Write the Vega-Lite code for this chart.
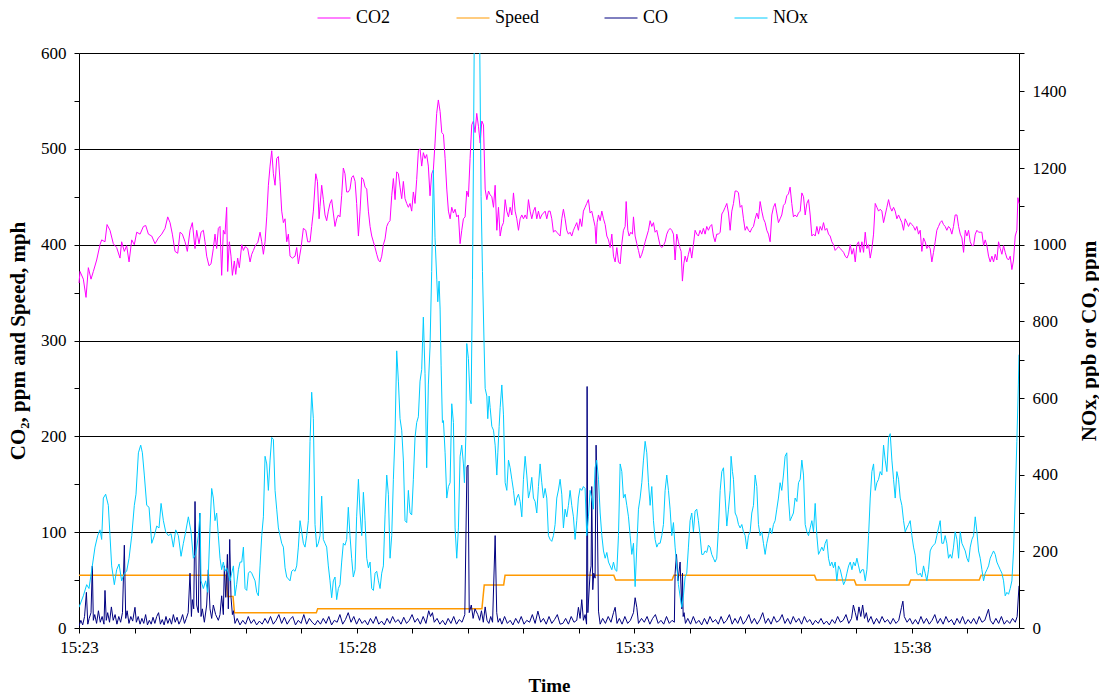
{
  "$schema": "https://vega.github.io/schema/vega-lite/v6.json",
  "width": 940,
  "height": 575,
  "autosize": {"type": "none"},
  "padding": {"left": 79, "top": 53, "right": 80, "bottom": 70},
  "background": "#ffffff",
  "config": {
    "font": "Liberation Serif, Times New Roman, serif",
    "view": {"stroke": null},
    "text": {"font": "Liberation Serif, Times New Roman, serif"},
    "axis": {
      "labelFont": "Liberation Serif, Times New Roman, serif",
      "titleFont": "Liberation Serif, Times New Roman, serif",
      "labelFontSize": 17,
      "labelColor": "#000000",
      "titleColor": "#000000",
      "titleFontWeight": "bold",
      "domainColor": "#000000",
      "tickColor": "#000000",
      "domainWidth": 1,
      "tickWidth": 1,
      "tickSize": 5,
      "labelOverlap": false,
      "labelFlush": false
    },
    "legend": {
      "orient": "none",
      "legendX": 238,
      "legendY": -52,
      "direction": "horizontal",
      "symbolType": "stroke",
      "symbolSize": 1089,
      "symbolStrokeWidth": 1,
      "labelFont": "Liberation Serif, Times New Roman, serif",
      "labelFontSize": 18,
      "labelColor": "#000000",
      "labelOffset": 5,
      "columnPadding": 63
    }
  },
  "datasets": {
    "co2": [
      {"t":0,"v":360},{"t":1.1,"v":372},{"t":4.7,"v":364},{"t":7.6,"v":345},{"t":10.1,"v":376},{"t":13,"v":364},{"t":15.5,"v":372},{"t":19.1,"v":384},{"t":22.7,"v":400},{"t":24.5,"v":405},{"t":28.1,"v":403},{"t":30.3,"v":421},{"t":33.5,"v":415},{"t":37.1,"v":401},{"t":40.7,"v":397},{"t":44.3,"v":386},{"t":46.1,"v":403},{"t":49,"v":393},{"t":51.5,"v":399},{"t":54.1,"v":382},{"t":57,"v":405},{"t":59.8,"v":400},{"t":62.4,"v":413},{"t":66,"v":411},{"t":69.6,"v":419},{"t":72.1,"v":420},{"t":75,"v":411},{"t":78.6,"v":409},{"t":82.2,"v":401},{"t":85.8,"v":407},{"t":89.4,"v":411},{"t":93,"v":417},{"t":95.9,"v":429},{"t":98.4,"v":423},{"t":100.9,"v":411},{"t":103.8,"v":393},{"t":106.7,"v":391},{"t":109.2,"v":413},{"t":111.7,"v":411},{"t":114.6,"v":403},{"t":117.1,"v":393},{"t":120,"v":415},{"t":122.5,"v":423},{"t":125.4,"v":396},{"t":127.2,"v":415},{"t":129.7,"v":401},{"t":131.9,"v":413},{"t":134.4,"v":415},{"t":136.2,"v":403},{"t":138,"v":388},{"t":140.5,"v":378},{"t":142.7,"v":380},{"t":145.2,"v":396},{"t":147,"v":411},{"t":148.8,"v":396},{"t":150.6,"v":417},{"t":152.4,"v":419},{"t":154.2,"v":368},{"t":156,"v":415},{"t":157.8,"v":411},{"t":159.6,"v":439},{"t":160.7,"v":372},{"t":162.5,"v":403},{"t":164.3,"v":388},{"t":165.8,"v":368},{"t":167.9,"v":383},{"t":169.4,"v":369},{"t":171.5,"v":386},{"t":173.3,"v":376},{"t":175.9,"v":400},{"t":177.7,"v":394},{"t":179.5,"v":398},{"t":182.3,"v":396},{"t":184.9,"v":382},{"t":186.7,"v":390},{"t":188.5,"v":394},{"t":191,"v":400},{"t":193.2,"v":402},{"t":195.7,"v":413},{"t":197.5,"v":403},{"t":199.3,"v":390},{"t":201.1,"v":403},{"t":202.9,"v":429},{"t":204.7,"v":462},{"t":206.5,"v":482},{"t":208.3,"v":498},{"t":210.1,"v":474},{"t":211.9,"v":462},{"t":213.7,"v":490},{"t":215.5,"v":492},{"t":217.3,"v":466},{"t":219.1,"v":435},{"t":220.9,"v":423},{"t":222.7,"v":427},{"t":224.5,"v":403},{"t":226.3,"v":411},{"t":228.1,"v":388},{"t":230.6,"v":386},{"t":233.5,"v":388},{"t":235.3,"v":397},{"t":237.1,"v":380},{"t":240,"v":397},{"t":242.5,"v":417},{"t":245.1,"v":415},{"t":247.2,"v":403},{"t":249.7,"v":403},{"t":251.5,"v":419},{"t":253.3,"v":435},{"t":255.9,"v":474},{"t":257.7,"v":466},{"t":259.5,"v":427},{"t":260.5,"v":440},{"t":262.3,"v":462},{"t":264.1,"v":447},{"t":265.9,"v":431},{"t":267.7,"v":425},{"t":269.5,"v":435},{"t":271.3,"v":443},{"t":273.1,"v":447},{"t":274.9,"v":433},{"t":276.7,"v":419},{"t":278.5,"v":427},{"t":280.3,"v":431},{"t":282.1,"v":429},{"t":283.9,"v":451},{"t":285.7,"v":480},{"t":287.5,"v":474},{"t":289.3,"v":455},{"t":291.1,"v":455},{"t":292.9,"v":458},{"t":294.7,"v":470},{"t":296.5,"v":472},{"t":298.4,"v":466},{"t":300.1,"v":443},{"t":302,"v":409},{"t":303.8,"v":435},{"t":305.6,"v":470},{"t":307.4,"v":468},{"t":309.2,"v":460},{"t":311,"v":458},{"t":312.8,"v":435},{"t":314.6,"v":419},{"t":316.4,"v":409},{"t":318.2,"v":403},{"t":320,"v":397},{"t":321.8,"v":390},{"t":323.6,"v":384},{"t":325.4,"v":382},{"t":327.2,"v":388},{"t":329,"v":400},{"t":330.8,"v":406},{"t":332.6,"v":419},{"t":334.4,"v":423},{"t":336.2,"v":425},{"t":338,"v":451},{"t":339.8,"v":469},{"t":341.6,"v":447},{"t":343.4,"v":476},{"t":345.2,"v":474},{"t":347,"v":460},{"t":348.8,"v":448},{"t":350.6,"v":466},{"t":352.4,"v":448},{"t":354.2,"v":443},{"t":356,"v":439},{"t":357.8,"v":443},{"t":359.6,"v":435},{"t":361.4,"v":455},{"t":363.2,"v":443},{"t":365,"v":468},{"t":366.8,"v":498},{"t":368.6,"v":500},{"t":370.4,"v":482},{"t":372.2,"v":496},{"t":374,"v":490},{"t":375.8,"v":494},{"t":377.6,"v":482},{"t":379.4,"v":451},{"t":381.2,"v":474},{"t":383,"v":478},{"t":384.8,"v":506},{"t":386.6,"v":537},{"t":388.4,"v":551},{"t":390.3,"v":539},{"t":392.1,"v":517},{"t":393.9,"v":515},{"t":395.7,"v":490},{"t":397.5,"v":458},{"t":399.3,"v":435},{"t":401.1,"v":427},{"t":402.9,"v":439},{"t":404.7,"v":433},{"t":406.5,"v":437},{"t":408.3,"v":429},{"t":410.1,"v":431},{"t":411.9,"v":401},{"t":413.7,"v":415},{"t":415.5,"v":427},{"t":417.3,"v":429},{"t":419.1,"v":456},{"t":420.9,"v":450},{"t":422.7,"v":490},{"t":424.5,"v":525},{"t":426.3,"v":529},{"t":428.1,"v":517},{"t":429.9,"v":537},{"t":431.8,"v":523},{"t":433.6,"v":506},{"t":435.4,"v":529},{"t":437.2,"v":525},{"t":439,"v":458},{"t":440.8,"v":447},{"t":442.6,"v":456},{"t":444.4,"v":452},{"t":446.2,"v":450},{"t":448,"v":439},{"t":449.8,"v":462},{"t":451.6,"v":415},{"t":453.4,"v":439},{"t":455.2,"v":409},{"t":457,"v":419},{"t":458.8,"v":423},{"t":460.6,"v":447},{"t":462.4,"v":435},{"t":464.2,"v":429},{"t":466,"v":439},{"t":467.8,"v":431},{"t":469.6,"v":454},{"t":471.4,"v":435},{"t":473.2,"v":427},{"t":475,"v":415},{"t":476.8,"v":427},{"t":478.6,"v":431},{"t":480.4,"v":427},{"t":482.2,"v":431},{"t":484,"v":427},{"t":485.8,"v":447},{"t":487.6,"v":435},{"t":489.4,"v":427},{"t":491.2,"v":435},{"t":493,"v":439},{"t":494.8,"v":427},{"t":496.6,"v":435},{"t":498.4,"v":427},{"t":500.2,"v":431},{"t":502,"v":433},{"t":503.8,"v":435},{"t":505.6,"v":427},{"t":507.4,"v":435},{"t":509.2,"v":435},{"t":511,"v":427},{"t":512.8,"v":413},{"t":514.6,"v":415},{"t":516.4,"v":413},{"t":518.2,"v":411},{"t":520,"v":409},{"t":521.8,"v":427},{"t":523.6,"v":437},{"t":525.4,"v":427},{"t":527.2,"v":415},{"t":529,"v":411},{"t":530.8,"v":413},{"t":532.6,"v":409},{"t":534.4,"v":415},{"t":536.2,"v":419},{"t":538,"v":423},{"t":539.8,"v":415},{"t":541.6,"v":427},{"t":543.4,"v":419},{"t":545.2,"v":435},{"t":547,"v":439},{"t":548.8,"v":443},{"t":550.6,"v":447},{"t":552.4,"v":433},{"t":554.2,"v":435},{"t":556,"v":427},{"t":557.8,"v":419},{"t":558.9,"v":401},{"t":560,"v":423},{"t":561.5,"v":431},{"t":563.3,"v":425},{"t":565.1,"v":435},{"t":566.9,"v":427},{"t":568.7,"v":421},{"t":570.5,"v":409},{"t":572.3,"v":405},{"t":574.1,"v":397},{"t":575.9,"v":411},{"t":577.7,"v":388},{"t":579.5,"v":382},{"t":581.3,"v":397},{"t":583.1,"v":382},{"t":584.9,"v":380},{"t":586.7,"v":401},{"t":588.5,"v":415},{"t":590.3,"v":419},{"t":591.4,"v":445},{"t":593.2,"v":415},{"t":594.6,"v":409},{"t":596.4,"v":413},{"t":598.2,"v":411},{"t":599.3,"v":429},{"t":601.1,"v":409},{"t":602.9,"v":401},{"t":604.7,"v":394},{"t":606.5,"v":386},{"t":608.3,"v":390},{"t":610.1,"v":396},{"t":611.9,"v":403},{"t":613.7,"v":409},{"t":615.5,"v":415},{"t":617.3,"v":425},{"t":619.1,"v":419},{"t":620.9,"v":423},{"t":622.7,"v":413},{"t":624.5,"v":415},{"t":626.3,"v":407},{"t":628.1,"v":399},{"t":629.9,"v":397},{"t":631.7,"v":399},{"t":633.5,"v":403},{"t":635.3,"v":411},{"t":637.1,"v":415},{"t":638.9,"v":417},{"t":640.7,"v":415},{"t":642.5,"v":411},{"t":644.3,"v":384},{"t":646.1,"v":411},{"t":647.9,"v":403},{"t":649.7,"v":396},{"t":650.8,"v":393},{"t":652.2,"v":362},{"t":653.7,"v":380},{"t":655.1,"v":388},{"t":656.9,"v":382},{"t":658.7,"v":390},{"t":660.5,"v":397},{"t":662.3,"v":386},{"t":664.1,"v":400},{"t":665.9,"v":415},{"t":667.7,"v":411},{"t":669.5,"v":409},{"t":671.3,"v":415},{"t":673.1,"v":411},{"t":674.9,"v":417},{"t":676.7,"v":411},{"t":678.5,"v":419},{"t":680.3,"v":415},{"t":682.1,"v":419},{"t":683.9,"v":421},{"t":685.7,"v":409},{"t":687.5,"v":403},{"t":689.3,"v":411},{"t":691.2,"v":411},{"t":693,"v":413},{"t":694.8,"v":432},{"t":696.6,"v":435},{"t":698.4,"v":439},{"t":700.2,"v":443},{"t":702,"v":433},{"t":703.8,"v":415},{"t":705.6,"v":435},{"t":707.4,"v":443},{"t":709.2,"v":456},{"t":711,"v":456},{"t":712.8,"v":454},{"t":714.6,"v":439},{"t":716.4,"v":441},{"t":718.2,"v":427},{"t":720,"v":415},{"t":721.8,"v":419},{"t":723.6,"v":415},{"t":725.4,"v":413},{"t":727.2,"v":417},{"t":729,"v":419},{"t":730.8,"v":427},{"t":732.6,"v":433},{"t":734.4,"v":427},{"t":736.2,"v":445},{"t":738,"v":435},{"t":739.8,"v":427},{"t":741.6,"v":423},{"t":743.4,"v":415},{"t":745.2,"v":411},{"t":747,"v":403},{"t":748.8,"v":431},{"t":750.6,"v":439},{"t":752.4,"v":443},{"t":754.2,"v":433},{"t":756,"v":423},{"t":757.8,"v":427},{"t":759.6,"v":431},{"t":761.4,"v":441},{"t":763.2,"v":443},{"t":765,"v":451},{"t":766.8,"v":453},{"t":768.6,"v":460},{"t":770.4,"v":443},{"t":772.2,"v":429},{"t":774,"v":431},{"t":775.8,"v":429},{"t":777.6,"v":433},{"t":779.5,"v":435},{"t":781.3,"v":454},{"t":783.1,"v":450},{"t":784.9,"v":431},{"t":786.7,"v":443},{"t":788.5,"v":447},{"t":790.3,"v":431},{"t":792.1,"v":409},{"t":793.9,"v":411},{"t":795.7,"v":409},{"t":797.5,"v":419},{"t":799.3,"v":411},{"t":801.1,"v":419},{"t":802.9,"v":415},{"t":804.7,"v":423},{"t":806.5,"v":415},{"t":808.3,"v":417},{"t":810.1,"v":411},{"t":811.9,"v":409},{"t":813.7,"v":403},{"t":815.5,"v":400},{"t":817.3,"v":394},{"t":819.1,"v":396},{"t":820.9,"v":398},{"t":822.8,"v":396},{"t":824.6,"v":394},{"t":826.4,"v":392},{"t":828.2,"v":388},{"t":830,"v":386},{"t":831.8,"v":390},{"t":833.6,"v":400},{"t":835.4,"v":390},{"t":837.2,"v":396},{"t":839,"v":382},{"t":840.8,"v":400},{"t":842.6,"v":403},{"t":844.4,"v":392},{"t":846.2,"v":403},{"t":848,"v":392},{"t":849.8,"v":413},{"t":851.6,"v":396},{"t":853.4,"v":400},{"t":855.2,"v":386},{"t":857,"v":396},{"t":858.8,"v":411},{"t":860.6,"v":443},{"t":862.4,"v":439},{"t":864.2,"v":435},{"t":866,"v":437},{"t":867.8,"v":435},{"t":869.6,"v":423},{"t":871.4,"v":431},{"t":873.2,"v":439},{"t":875,"v":447},{"t":876.8,"v":439},{"t":878.6,"v":435},{"t":880.4,"v":439},{"t":882.2,"v":435},{"t":884,"v":427},{"t":885.8,"v":431},{"t":887.6,"v":427},{"t":889.4,"v":423},{"t":891.2,"v":415},{"t":893,"v":427},{"t":894.8,"v":423},{"t":896.6,"v":419},{"t":898.4,"v":423},{"t":900.2,"v":421},{"t":902,"v":419},{"t":903.8,"v":415},{"t":905.6,"v":419},{"t":907.4,"v":411},{"t":909.2,"v":415},{"t":911,"v":393},{"t":912.8,"v":407},{"t":914.6,"v":403},{"t":916.4,"v":396},{"t":918.2,"v":399},{"t":920,"v":396},{"t":921.8,"v":382},{"t":923.6,"v":392},{"t":925.4,"v":403},{"t":927.2,"v":415},{"t":929,"v":419},{"t":930.8,"v":423},{"t":932.6,"v":425},{"t":934.4,"v":421},{"t":936.2,"v":419},{"t":938,"v":415},{"t":939.8,"v":419},{"t":941.6,"v":417},{"t":943.4,"v":411},{"t":945.2,"v":419},{"t":947,"v":431},{"t":948.9,"v":431},{"t":950.7,"v":419},{"t":952.5,"v":411},{"t":954.3,"v":407},{"t":956.1,"v":392},{"t":957.9,"v":415},{"t":959.7,"v":409},{"t":961.5,"v":415},{"t":963.3,"v":403},{"t":965.1,"v":399},{"t":966.9,"v":399},{"t":968.7,"v":411},{"t":970.5,"v":415},{"t":972.3,"v":413},{"t":974.1,"v":413},{"t":975.9,"v":413},{"t":977.7,"v":399},{"t":979.5,"v":405},{"t":981.3,"v":399},{"t":983.1,"v":388},{"t":984.9,"v":382},{"t":986.7,"v":388},{"t":988.5,"v":382},{"t":990.3,"v":390},{"t":992.1,"v":384},{"t":993.9,"v":403},{"t":995.7,"v":396},{"t":997.5,"v":390},{"t":999.3,"v":399},{"t":1001.1,"v":392},{"t":1002.9,"v":386},{"t":1004.7,"v":384},{"t":1006.5,"v":388},{"t":1008.3,"v":374},{"t":1010.1,"v":384},{"t":1011.9,"v":409},{"t":1013.7,"v":415},{"t":1014.8,"v":449},{"t":1016,"v":443}
    ],
    "speed": [
      {"t":0,"v":55},{"t":159,"v":55},{"t":160.5,"v":33},{"t":166.5,"v":33},{"t":168,"v":16},{"t":256.5,"v":16},{"t":258,"v":20},{"t":435.5,"v":20},{"t":438,"v":45},{"t":459,"v":45},{"t":460.5,"v":55},{"t":578,"v":55},{"t":580,"v":50},{"t":641,"v":50},{"t":643,"v":55},{"t":795,"v":55},{"t":797,"v":50},{"t":838,"v":50},{"t":840,"v":45},{"t":897,"v":45},{"t":899,"v":50},{"t":973,"v":50},{"t":975,"v":55},{"t":1016,"v":55}
    ],
    "co": [
      {"t":0,"v":5},{"t":2,"v":20},{"t":4,"v":8},{"t":6,"v":30},{"t":8,"v":93},{"t":9.5,"v":10},{"t":11,"v":25},{"t":13,"v":40},{"t":14.4,"v":162},{"t":15.5,"v":20},{"t":17,"v":35},{"t":19,"v":12},{"t":21,"v":45},{"t":23,"v":15},{"t":25,"v":30},{"t":27,"v":10},{"t":28.1,"v":98},{"t":29.5,"v":20},{"t":31,"v":40},{"t":33,"v":15},{"t":35,"v":55},{"t":37,"v":20},{"t":39,"v":35},{"t":41,"v":10},{"t":43,"v":30},{"t":45,"v":15},{"t":47,"v":40},{"t":49,"v":216},{"t":50.5,"v":25},{"t":52,"v":45},{"t":54,"v":12},{"t":56,"v":30},{"t":58,"v":18},{"t":60.5,"v":54},{"t":62,"v":15},{"t":64,"v":30},{"t":66,"v":10},{"t":68,"v":25},{"t":70,"v":12},{"t":72,"v":35},{"t":74,"v":8},{"t":76,"v":20},{"t":78,"v":10},{"t":80,"v":28},{"t":82,"v":12},{"t":84,"v":30},{"t":86,"v":40},{"t":88,"v":10},{"t":90,"v":22},{"t":92,"v":8},{"t":94,"v":30},{"t":96,"v":12},{"t":98,"v":25},{"t":100,"v":10},{"t":102,"v":35},{"t":104,"v":15},{"t":106,"v":28},{"t":108,"v":10},{"t":110,"v":20},{"t":112,"v":35},{"t":114,"v":12},{"t":116,"v":25},{"t":118,"v":40},{"t":120,"v":143},{"t":121.5,"v":30},{"t":122.5,"v":74},{"t":124,"v":50},{"t":125.4,"v":330},{"t":127.2,"v":60},{"t":129,"v":40},{"t":130.4,"v":300},{"t":131.9,"v":30},{"t":133.3,"v":50},{"t":135.5,"v":15},{"t":138,"v":60},{"t":139.8,"v":152},{"t":141.6,"v":50},{"t":143.4,"v":25},{"t":145.2,"v":60},{"t":147.7,"v":35},{"t":150.6,"v":20},{"t":152.4,"v":35},{"t":154.2,"v":84},{"t":156,"v":35},{"t":157.1,"v":162},{"t":158.6,"v":80},{"t":160.4,"v":192},{"t":161.4,"v":50},{"t":162.9,"v":231},{"t":164.3,"v":80},{"t":165.8,"v":35},{"t":166.9,"v":45},{"t":168.6,"v":12},{"t":171,"v":25},{"t":174,"v":8},{"t":177,"v":20},{"t":180,"v":10},{"t":183,"v":30},{"t":186,"v":12},{"t":189,"v":22},{"t":192,"v":8},{"t":195,"v":18},{"t":198,"v":10},{"t":201,"v":25},{"t":204,"v":12},{"t":207,"v":30},{"t":210,"v":10},{"t":213,"v":20},{"t":216,"v":35},{"t":219,"v":12},{"t":222,"v":28},{"t":225,"v":10},{"t":228,"v":22},{"t":231,"v":30},{"t":234,"v":8},{"t":237,"v":20},{"t":240,"v":12},{"t":243,"v":35},{"t":246,"v":10},{"t":249,"v":25},{"t":252,"v":15},{"t":255,"v":8},{"t":258,"v":20},{"t":261,"v":10},{"t":264,"v":25},{"t":267,"v":12},{"t":270,"v":30},{"t":273,"v":8},{"t":276,"v":20},{"t":279,"v":15},{"t":282,"v":35},{"t":285,"v":10},{"t":288,"v":22},{"t":291,"v":40},{"t":294,"v":15},{"t":297,"v":30},{"t":300,"v":10},{"t":303,"v":25},{"t":306,"v":12},{"t":309,"v":20},{"t":312,"v":8},{"t":315,"v":25},{"t":318,"v":12},{"t":321,"v":30},{"t":324,"v":10},{"t":327,"v":18},{"t":330,"v":8},{"t":333,"v":25},{"t":336,"v":12},{"t":339,"v":30},{"t":342,"v":15},{"t":345,"v":22},{"t":348,"v":10},{"t":351,"v":28},{"t":354,"v":12},{"t":357,"v":20},{"t":360,"v":35},{"t":363,"v":15},{"t":366,"v":25},{"t":369,"v":10},{"t":372,"v":30},{"t":375,"v":12},{"t":378,"v":45},{"t":380,"v":30},{"t":382,"v":40},{"t":384,"v":15},{"t":387,"v":25},{"t":390,"v":10},{"t":393,"v":20},{"t":396,"v":8},{"t":399,"v":25},{"t":402,"v":12},{"t":405,"v":30},{"t":408,"v":10},{"t":411,"v":22},{"t":414,"v":15},{"t":417,"v":35},{"t":419.3,"v":420},{"t":420.5,"v":425},{"t":421.8,"v":40},{"t":424,"v":60},{"t":426,"v":25},{"t":428,"v":50},{"t":431,"v":35},{"t":433,"v":20},{"t":435,"v":45},{"t":437,"v":15},{"t":439,"v":55},{"t":441,"v":20},{"t":443,"v":12},{"t":445,"v":30},{"t":447,"v":15},{"t":449.8,"v":241},{"t":451.5,"v":40},{"t":453,"v":15},{"t":455,"v":25},{"t":457,"v":10},{"t":460,"v":30},{"t":463,"v":12},{"t":466,"v":20},{"t":469,"v":8},{"t":472,"v":25},{"t":475,"v":12},{"t":478,"v":30},{"t":481,"v":10},{"t":484,"v":20},{"t":487,"v":15},{"t":490,"v":35},{"t":493,"v":12},{"t":496,"v":44},{"t":499,"v":15},{"t":502,"v":25},{"t":505,"v":10},{"t":508,"v":30},{"t":511,"v":12},{"t":514,"v":22},{"t":517,"v":35},{"t":520,"v":10},{"t":523,"v":12},{"t":526,"v":25},{"t":529,"v":10},{"t":532,"v":30},{"t":535,"v":15},{"t":538,"v":20},{"t":539.8,"v":54},{"t":541.6,"v":25},{"t":543.4,"v":74},{"t":545.2,"v":20},{"t":547,"v":35},{"t":548.6,"v":10},{"t":549.2,"v":630},{"t":550,"v":40},{"t":552.4,"v":143},{"t":553.5,"v":162},{"t":554.2,"v":369},{"t":555.3,"v":100},{"t":556.4,"v":143},{"t":557.8,"v":130},{"t":558.9,"v":477},{"t":560,"v":339},{"t":561.5,"v":44},{"t":563.3,"v":10},{"t":566,"v":25},{"t":569,"v":12},{"t":572,"v":30},{"t":575,"v":15},{"t":577.7,"v":40},{"t":579.5,"v":54},{"t":581.5,"v":12},{"t":584,"v":25},{"t":587,"v":10},{"t":590,"v":30},{"t":593,"v":12},{"t":596,"v":20},{"t":599.3,"v":40},{"t":601.1,"v":79},{"t":602.9,"v":54},{"t":604.7,"v":12},{"t":608,"v":25},{"t":611,"v":15},{"t":614,"v":30},{"t":617,"v":10},{"t":620,"v":25},{"t":623,"v":35},{"t":626,"v":12},{"t":629,"v":20},{"t":632,"v":10},{"t":635,"v":30},{"t":638,"v":12},{"t":641,"v":20},{"t":643.5,"v":15},{"t":644.3,"v":143},{"t":645.8,"v":192},{"t":647.5,"v":123},{"t":649.7,"v":172},{"t":651.5,"v":50},{"t":652.3,"v":143},{"t":653,"v":30},{"t":654,"v":40},{"t":655.5,"v":12},{"t":658,"v":25},{"t":661,"v":10},{"t":664,"v":30},{"t":667,"v":12},{"t":670,"v":20},{"t":673,"v":8},{"t":676,"v":25},{"t":679,"v":10},{"t":682,"v":30},{"t":685,"v":15},{"t":688,"v":22},{"t":691,"v":10},{"t":694,"v":30},{"t":697,"v":12},{"t":700,"v":20},{"t":703,"v":35},{"t":706,"v":10},{"t":709,"v":25},{"t":712,"v":12},{"t":715,"v":30},{"t":718,"v":10},{"t":721,"v":20},{"t":724,"v":35},{"t":727,"v":12},{"t":730,"v":25},{"t":733,"v":10},{"t":736,"v":22},{"t":739,"v":40},{"t":742,"v":12},{"t":745,"v":25},{"t":748,"v":10},{"t":751,"v":30},{"t":754,"v":15},{"t":757,"v":20},{"t":760,"v":35},{"t":763,"v":12},{"t":766,"v":25},{"t":769,"v":10},{"t":772,"v":30},{"t":775,"v":15},{"t":778,"v":25},{"t":781,"v":10},{"t":784,"v":30},{"t":787,"v":15},{"t":790,"v":22},{"t":793,"v":8},{"t":796,"v":20},{"t":799,"v":12},{"t":802,"v":25},{"t":805,"v":10},{"t":808,"v":18},{"t":811,"v":8},{"t":814,"v":22},{"t":817,"v":12},{"t":820,"v":30},{"t":823,"v":15},{"t":826,"v":20},{"t":829,"v":35},{"t":832,"v":12},{"t":835,"v":25},{"t":837,"v":60},{"t":839,"v":40},{"t":841,"v":20},{"t":843,"v":55},{"t":845,"v":30},{"t":847,"v":60},{"t":849,"v":25},{"t":851,"v":40},{"t":853,"v":15},{"t":856,"v":30},{"t":859,"v":10},{"t":862,"v":25},{"t":865,"v":12},{"t":868,"v":30},{"t":871,"v":15},{"t":874,"v":22},{"t":877,"v":10},{"t":880,"v":25},{"t":883,"v":12},{"t":886,"v":20},{"t":889,"v":54},{"t":890.5,"v":70},{"t":892,"v":30},{"t":895,"v":15},{"t":898,"v":25},{"t":901,"v":10},{"t":904,"v":22},{"t":907,"v":10},{"t":910,"v":30},{"t":913,"v":12},{"t":916,"v":25},{"t":919,"v":10},{"t":922,"v":20},{"t":925,"v":35},{"t":928,"v":12},{"t":931,"v":25},{"t":934,"v":10},{"t":937,"v":30},{"t":940,"v":15},{"t":943,"v":22},{"t":946,"v":8},{"t":949,"v":25},{"t":952,"v":12},{"t":955,"v":30},{"t":958,"v":10},{"t":961,"v":22},{"t":964,"v":12},{"t":967,"v":25},{"t":970,"v":10},{"t":973,"v":30},{"t":976,"v":15},{"t":979,"v":20},{"t":983,"v":49},{"t":985,"v":20},{"t":988,"v":10},{"t":991,"v":25},{"t":994,"v":12},{"t":997,"v":30},{"t":1000,"v":10},{"t":1003,"v":20},{"t":1006,"v":12},{"t":1009,"v":25},{"t":1012,"v":15},{"t":1014,"v":30},{"t":1016,"v":110}
    ],
    "nox": [
      {"t":0,"v":54},{"t":4.7,"v":84},{"t":8.3,"v":113},{"t":10.8,"v":103},{"t":14.4,"v":162},{"t":17.3,"v":211},{"t":20.2,"v":241},{"t":22.7,"v":256},{"t":24.5,"v":231},{"t":26.3,"v":339},{"t":28.8,"v":349},{"t":31.7,"v":320},{"t":33.5,"v":241},{"t":35.3,"v":162},{"t":38.2,"v":113},{"t":40.7,"v":152},{"t":43.3,"v":167},{"t":46.1,"v":123},{"t":49,"v":143},{"t":51.5,"v":148},{"t":54.1,"v":182},{"t":57,"v":241},{"t":59.8,"v":320},{"t":61.6,"v":349},{"t":64.2,"v":457},{"t":66.7,"v":477},{"t":68.5,"v":457},{"t":70.6,"v":399},{"t":73.2,"v":320},{"t":75.7,"v":315},{"t":78.6,"v":221},{"t":81.5,"v":241},{"t":84,"v":266},{"t":86.5,"v":261},{"t":88.7,"v":325},{"t":91.2,"v":280},{"t":93.7,"v":251},{"t":96.6,"v":241},{"t":99.5,"v":246},{"t":102,"v":211},{"t":104.5,"v":256},{"t":107.4,"v":241},{"t":110.3,"v":187},{"t":112.8,"v":221},{"t":115.3,"v":251},{"t":118.2,"v":290},{"t":121.1,"v":251},{"t":123.6,"v":182},{"t":126.1,"v":192},{"t":129,"v":241},{"t":130.8,"v":300},{"t":131.9,"v":123},{"t":134.4,"v":103},{"t":136.9,"v":123},{"t":139.1,"v":93},{"t":141.6,"v":261},{"t":143.4,"v":364},{"t":145.2,"v":339},{"t":147,"v":280},{"t":148.8,"v":300},{"t":150.6,"v":241},{"t":152.4,"v":182},{"t":154.2,"v":152},{"t":156,"v":172},{"t":157.8,"v":148},{"t":159.6,"v":157},{"t":161.4,"v":143},{"t":163.2,"v":123},{"t":165,"v":143},{"t":166.9,"v":162},{"t":168.6,"v":84},{"t":170.4,"v":113},{"t":172.3,"v":152},{"t":174.1,"v":172},{"t":175.9,"v":172},{"t":177.7,"v":211},{"t":179.5,"v":103},{"t":181.3,"v":98},{"t":183.1,"v":143},{"t":184.9,"v":148},{"t":186.7,"v":143},{"t":188.5,"v":133},{"t":190.3,"v":123},{"t":192.1,"v":93},{"t":193.9,"v":84},{"t":195.7,"v":162},{"t":197.5,"v":241},{"t":199.3,"v":290},{"t":201.1,"v":448},{"t":202.9,"v":428},{"t":204.7,"v":359},{"t":206.5,"v":438},{"t":208.3,"v":497},{"t":210.1,"v":492},{"t":211.9,"v":359},{"t":213.7,"v":310},{"t":215.5,"v":261},{"t":217.3,"v":241},{"t":219.1,"v":221},{"t":220.9,"v":211},{"t":222.7,"v":157},{"t":224.5,"v":133},{"t":226.3,"v":128},{"t":228.1,"v":123},{"t":229.9,"v":148},{"t":231.7,"v":152},{"t":233.5,"v":148},{"t":235.3,"v":162},{"t":237.1,"v":211},{"t":238.9,"v":280},{"t":240.7,"v":251},{"t":242.5,"v":221},{"t":244.3,"v":211},{"t":246.1,"v":241},{"t":247.9,"v":280},{"t":249.7,"v":487},{"t":251.5,"v":615},{"t":253.3,"v":546},{"t":255.1,"v":270},{"t":256.9,"v":211},{"t":258.7,"v":221},{"t":260.5,"v":241},{"t":262.3,"v":344},{"t":264.1,"v":231},{"t":265.9,"v":221},{"t":267.7,"v":211},{"t":269.5,"v":162},{"t":271.3,"v":123},{"t":273.1,"v":79},{"t":274.9,"v":123},{"t":276.7,"v":133},{"t":278.5,"v":74},{"t":280.3,"v":103},{"t":282.1,"v":113},{"t":283.9,"v":172},{"t":285.7,"v":221},{"t":287.5,"v":216},{"t":289.3,"v":231},{"t":291.1,"v":315},{"t":292.9,"v":241},{"t":294.7,"v":182},{"t":296.5,"v":133},{"t":298.4,"v":152},{"t":300.1,"v":290},{"t":302,"v":388},{"t":303.8,"v":300},{"t":305.6,"v":241},{"t":307.4,"v":354},{"t":309.2,"v":280},{"t":311,"v":182},{"t":312.8,"v":157},{"t":314.6,"v":172},{"t":316.4,"v":103},{"t":318.2,"v":98},{"t":320,"v":143},{"t":321.8,"v":148},{"t":323.6,"v":123},{"t":325.4,"v":103},{"t":327.2,"v":143},{"t":329,"v":162},{"t":330.8,"v":295},{"t":332.6,"v":399},{"t":334.4,"v":349},{"t":336.2,"v":182},{"t":338,"v":241},{"t":339.8,"v":388},{"t":341.6,"v":507},{"t":343.4,"v":723},{"t":345.2,"v":644},{"t":347,"v":546},{"t":348.8,"v":516},{"t":350.6,"v":438},{"t":352.4,"v":280},{"t":354.2,"v":275},{"t":356,"v":359},{"t":357.8,"v":300},{"t":359.6,"v":295},{"t":361.4,"v":388},{"t":363.2,"v":497},{"t":365,"v":536},{"t":366.8,"v":551},{"t":368.6,"v":644},{"t":370.4,"v":674},{"t":372.2,"v":811},{"t":374,"v":664},{"t":375.8,"v":418},{"t":377.6,"v":634},{"t":379.4,"v":733},{"t":381.2,"v":930},{"t":383,"v":1195},{"t":384.8,"v":1018},{"t":386.7,"v":910},{"t":387.8,"v":851},{"t":389.2,"v":905},{"t":390.3,"v":832},{"t":391.4,"v":684},{"t":392.8,"v":536},{"t":393.9,"v":541},{"t":395.7,"v":457},{"t":397.5,"v":339},{"t":399.3,"v":369},{"t":401.1,"v":379},{"t":402.9,"v":585},{"t":404.7,"v":536},{"t":406.5,"v":261},{"t":408.3,"v":182},{"t":410.1,"v":261},{"t":411.9,"v":448},{"t":413.7,"v":477},{"t":415.5,"v":428},{"t":416.6,"v":379},{"t":418.1,"v":497},{"t":419.1,"v":742},{"t":420.9,"v":703},{"t":422.7,"v":595},{"t":423.8,"v":585},{"t":425.3,"v":910},{"t":426.4,"v":1244},{"t":427.8,"v":1750},{"t":429.9,"v":1950},{"t":432.1,"v":1800},{"t":434.6,"v":1126},{"t":436.1,"v":930},{"t":437.9,"v":733},{"t":439,"v":625},{"t":440.8,"v":605},{"t":441.8,"v":546},{"t":443.3,"v":605},{"t":444.4,"v":575},{"t":446.2,"v":526},{"t":448,"v":516},{"t":449.8,"v":477},{"t":451.6,"v":399},{"t":452.7,"v":457},{"t":454.1,"v":526},{"t":455.2,"v":575},{"t":457,"v":634},{"t":458.8,"v":556},{"t":460.6,"v":379},{"t":462.4,"v":359},{"t":464.2,"v":438},{"t":466,"v":418},{"t":467.8,"v":388},{"t":469.6,"v":359},{"t":471.4,"v":320},{"t":473.2,"v":339},{"t":475,"v":349},{"t":476.8,"v":330},{"t":478.6,"v":290},{"t":480.4,"v":388},{"t":482.2,"v":448},{"t":484,"v":399},{"t":485.8,"v":339},{"t":487.6,"v":359},{"t":489.4,"v":393},{"t":491.2,"v":339},{"t":493,"v":330},{"t":494.8,"v":300},{"t":496.6,"v":369},{"t":498.4,"v":428},{"t":500.2,"v":379},{"t":502,"v":339},{"t":503.8,"v":364},{"t":505.6,"v":339},{"t":507.4,"v":241},{"t":509.2,"v":231},{"t":511,"v":226},{"t":512.8,"v":241},{"t":514.6,"v":270},{"t":516.4,"v":339},{"t":518.2,"v":360},{"t":520,"v":388},{"t":521.8,"v":349},{"t":523.6,"v":261},{"t":525.4,"v":310},{"t":527.2,"v":290},{"t":529,"v":320},{"t":530.8,"v":359},{"t":532.6,"v":320},{"t":534.4,"v":290},{"t":536.2,"v":231},{"t":538,"v":280},{"t":539.8,"v":339},{"t":541.6,"v":364},{"t":543.4,"v":359},{"t":545.2,"v":369},{"t":547,"v":364},{"t":548.8,"v":241},{"t":550.6,"v":290},{"t":552.4,"v":359},{"t":554.2,"v":339},{"t":556,"v":310},{"t":557.8,"v":418},{"t":559.6,"v":438},{"t":561.5,"v":388},{"t":563.3,"v":300},{"t":565.1,"v":241},{"t":566.9,"v":201},{"t":568.7,"v":182},{"t":570.5,"v":197},{"t":572.3,"v":172},{"t":574.1,"v":162},{"t":575.9,"v":152},{"t":577.7,"v":172},{"t":579.5,"v":152},{"t":581.3,"v":148},{"t":583.1,"v":241},{"t":584.9,"v":428},{"t":586.7,"v":408},{"t":588.5,"v":339},{"t":590.3,"v":349},{"t":592.1,"v":320},{"t":593.9,"v":290},{"t":595.7,"v":241},{"t":597.5,"v":192},{"t":599.3,"v":221},{"t":601.1,"v":108},{"t":602.9,"v":211},{"t":604.7,"v":310},{"t":606.5,"v":339},{"t":608.3,"v":379},{"t":610.1,"v":438},{"t":611.9,"v":487},{"t":613.7,"v":457},{"t":615.5,"v":379},{"t":617.3,"v":320},{"t":619.1,"v":369},{"t":620.9,"v":280},{"t":622.7,"v":231},{"t":624.5,"v":211},{"t":626.3,"v":221},{"t":628.1,"v":221},{"t":629.9,"v":241},{"t":631.7,"v":270},{"t":633.5,"v":359},{"t":635.3,"v":399},{"t":637.1,"v":359},{"t":638.9,"v":310},{"t":640.7,"v":241},{"t":642.5,"v":275},{"t":644.3,"v":211},{"t":646.1,"v":162},{"t":647.9,"v":113},{"t":650.8,"v":64},{"t":651.5,"v":54},{"t":653.3,"v":84},{"t":655.1,"v":133},{"t":656.9,"v":143},{"t":658.7,"v":211},{"t":660.5,"v":280},{"t":662.3,"v":300},{"t":664.1,"v":251},{"t":665.9,"v":305},{"t":667.7,"v":310},{"t":669.5,"v":280},{"t":671.3,"v":241},{"t":673.1,"v":192},{"t":674.9,"v":192},{"t":676.7,"v":201},{"t":678.5,"v":197},{"t":680.3,"v":216},{"t":682.1,"v":211},{"t":683.9,"v":192},{"t":685.7,"v":182},{"t":687.5,"v":172},{"t":689.3,"v":182},{"t":691.2,"v":261},{"t":693,"v":359},{"t":694.8,"v":408},{"t":696.6,"v":418},{"t":698.4,"v":339},{"t":700.2,"v":266},{"t":702,"v":310},{"t":703.8,"v":359},{"t":704.8,"v":448},{"t":706.3,"v":408},{"t":707.4,"v":388},{"t":709.2,"v":300},{"t":711,"v":290},{"t":712.8,"v":270},{"t":714.6,"v":261},{"t":716.4,"v":270},{"t":718.2,"v":251},{"t":720,"v":241},{"t":721.8,"v":206},{"t":723.6,"v":241},{"t":725.4,"v":251},{"t":727.2,"v":300},{"t":729,"v":320},{"t":730.8,"v":399},{"t":732.6,"v":369},{"t":734.4,"v":270},{"t":736.2,"v":241},{"t":738,"v":251},{"t":739.8,"v":221},{"t":741.6,"v":192},{"t":743.4,"v":221},{"t":745.2,"v":241},{"t":747,"v":261},{"t":748.8,"v":246},{"t":750.6,"v":270},{"t":752.4,"v":280},{"t":754.2,"v":310},{"t":756,"v":339},{"t":757.8,"v":379},{"t":759.6,"v":359},{"t":761.4,"v":399},{"t":763.2,"v":448},{"t":765,"v":457},{"t":766.8,"v":339},{"t":768.6,"v":280},{"t":770.4,"v":290},{"t":772.2,"v":300},{"t":774,"v":339},{"t":775.9,"v":330},{"t":777.7,"v":379},{"t":779.5,"v":388},{"t":781.3,"v":438},{"t":783.1,"v":399},{"t":784.9,"v":270},{"t":786.7,"v":251},{"t":788.5,"v":241},{"t":790.3,"v":261},{"t":792.1,"v":280},{"t":793.9,"v":251},{"t":795.7,"v":325},{"t":797.5,"v":241},{"t":799.3,"v":192},{"t":801.1,"v":201},{"t":802.9,"v":211},{"t":804.7,"v":201},{"t":806.5,"v":221},{"t":808.3,"v":231},{"t":810.1,"v":182},{"t":811.9,"v":162},{"t":813.7,"v":172},{"t":815.5,"v":157},{"t":817.3,"v":172},{"t":819.1,"v":123},{"t":820.9,"v":162},{"t":822.8,"v":152},{"t":824.6,"v":133},{"t":826.4,"v":113},{"t":828.2,"v":123},{"t":830,"v":143},{"t":831.8,"v":162},{"t":833.6,"v":172},{"t":835.4,"v":152},{"t":837.2,"v":172},{"t":839,"v":162},{"t":840.8,"v":182},{"t":842.6,"v":162},{"t":844.4,"v":143},{"t":846.2,"v":152},{"t":848,"v":152},{"t":849.8,"v":123},{"t":851.6,"v":152},{"t":853.4,"v":241},{"t":855.2,"v":339},{"t":857,"v":408},{"t":858.8,"v":428},{"t":860.6,"v":359},{"t":862.4,"v":379},{"t":864.2,"v":388},{"t":866,"v":408},{"t":867.8,"v":399},{"t":869.6,"v":477},{"t":871.4,"v":438},{"t":873.2,"v":408},{"t":875,"v":497},{"t":876.8,"v":507},{"t":878.6,"v":438},{"t":880.4,"v":388},{"t":882.2,"v":339},{"t":884,"v":408},{"t":885.8,"v":388},{"t":887.6,"v":339},{"t":889.4,"v":320},{"t":891.2,"v":280},{"t":893,"v":251},{"t":894.8,"v":261},{"t":896.6,"v":270},{"t":898.4,"v":280},{"t":900.2,"v":241},{"t":902,"v":211},{"t":903.8,"v":190},{"t":905.6,"v":143},{"t":907.4,"v":138},{"t":909.2,"v":143},{"t":911,"v":133},{"t":912.8,"v":162},{"t":914.6,"v":143},{"t":916.4,"v":123},{"t":918.2,"v":152},{"t":920,"v":201},{"t":921.8,"v":211},{"t":923.6,"v":216},{"t":925.4,"v":221},{"t":927.2,"v":241},{"t":929,"v":261},{"t":930.8,"v":280},{"t":932.6,"v":221},{"t":934.4,"v":221},{"t":936.2,"v":241},{"t":938,"v":221},{"t":939.8,"v":182},{"t":941.6,"v":192},{"t":943.4,"v":182},{"t":945.2,"v":211},{"t":947,"v":251},{"t":948.9,"v":231},{"t":950.7,"v":182},{"t":952.5,"v":251},{"t":954.3,"v":221},{"t":956.1,"v":211},{"t":957.9,"v":201},{"t":959.7,"v":182},{"t":961.5,"v":172},{"t":963.3,"v":211},{"t":965.1,"v":231},{"t":966.9,"v":241},{"t":968.7,"v":290},{"t":970.5,"v":251},{"t":972.3,"v":201},{"t":974.1,"v":182},{"t":975.9,"v":152},{"t":977.7,"v":123},{"t":979.5,"v":143},{"t":981.3,"v":152},{"t":983.1,"v":162},{"t":984.9,"v":182},{"t":986.7,"v":192},{"t":988.5,"v":201},{"t":990.3,"v":192},{"t":992.1,"v":172},{"t":993.9,"v":162},{"t":995.7,"v":152},{"t":997.5,"v":143},{"t":999.3,"v":123},{"t":1001.1,"v":84},{"t":1002.9,"v":93},{"t":1004.7,"v":88},{"t":1006.5,"v":103},{"t":1008.3,"v":123},{"t":1010.1,"v":201},{"t":1011.9,"v":339},{"t":1013.7,"v":487},{"t":1015.3,"v":634},{"t":1016,"v":713}
    ]
  },
  "encoding": {
    "x": {
      "field": "t",
      "type": "quantitative",
      "scale": {"domain": [0, 1016], "nice": false, "zero": false},
      "axis": {
        "orient": "bottom",
        "title": "Time",
        "titleFontSize": 19,
        "titlePadding": 21,
        "grid": false,
        "values": [0, 60, 120, 180, 240, 300, 360, 420, 480, 540, 600, 660, 720, 780, 840, 900, 960],
        "labelExpr": "datum.value % 300 === 0 ? '15:' + (23 + datum.value / 60) : ''",
        "labelPadding": 6
      }
    }
  },
  "layer": [
    {
      "encoding": {
        "y": {
          "field": "v",
          "type": "quantitative",
          "scale": {"domain": [0, 600], "nice": false, "zero": true},
          "axis": {
            "orient": "left",
            "title": "CO₂, ppm and Speed, mph",
            "titleFontSize": 21,
            "titlePadding": 12,
            "values": [0, 50, 100, 150, 200, 250, 300, 350, 400, 450, 500, 550, 600],
            "format": "d",
            "labelExpr": "datum.value % 100 === 0 ? datum.label : ''",
            "labelPadding": 8,
            "grid": true,
            "gridColor": "#000000",
            "gridWidth": 1,
            "gridOpacity": {"condition": {"test": "datum.value % 100 !== 0 || datum.value === 0", "value": 0}, "value": 1}
          }
        }
      },
      "layer": [
        {
          "data": {"name": "co2"},
          "mark": {"type": "line", "strokeWidth": 1},
          "encoding": {
            "color": {
              "datum": "CO2",
              "type": "nominal",
              "scale": {"domain": ["CO2", "Speed", "CO", "NOx"], "range": ["#FF00FF", "#FF9900", "#000080", "#00CCFF"]},
              "legend": {"title": null}
            }
          }
        },
        {
          "data": {"name": "speed"},
          "mark": {"type": "line", "strokeWidth": 1.5},
          "encoding": {"color": {"datum": "Speed", "type": "nominal"}}
        }
      ]
    },
    {
      "encoding": {
        "y": {
          "field": "v",
          "type": "quantitative",
          "scale": {"domain": [0, 1500], "nice": false, "zero": true},
          "axis": {
            "orient": "right",
            "title": "NOx, ppb or CO, ppm",
            "titleFontSize": 21,
            "titleAngle": 270,
            "titleBaseline": "top",
            "titlePadding": 12,
            "values": [0, 100, 200, 300, 400, 500, 600, 700, 800, 900, 1000, 1100, 1200, 1300, 1400, 1500],
            "format": "d",
            "labelExpr": "datum.value % 200 === 0 ? datum.label : ''",
            "labelPadding": 8,
            "grid": false
          }
        }
      },
      "layer": [
        {
          "data": {"name": "co"},
          "mark": {"type": "line", "strokeWidth": 1, "clip": true},
          "encoding": {"color": {"datum": "CO", "type": "nominal"}}
        },
        {
          "data": {"name": "nox"},
          "mark": {"type": "line", "strokeWidth": 1, "clip": true},
          "encoding": {"color": {"datum": "NOx", "type": "nominal"}}
        }
      ]
    }
  ],
  "resolve": {"scale": {"y": "independent"}}
}
